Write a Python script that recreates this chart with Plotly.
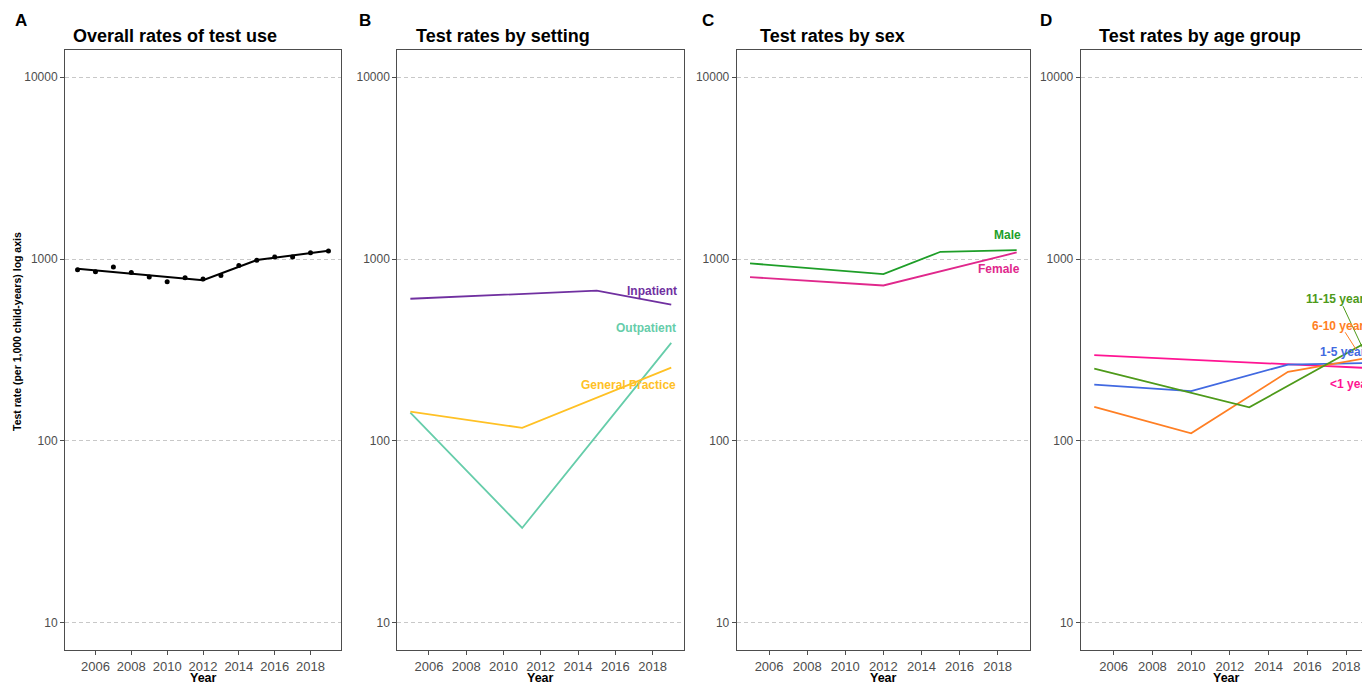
import plotly.graph_objects as go
import numpy as np

# ---------------- data ----------------
years_overall = [2005, 2006, 2007, 2008, 2009, 2010, 2011, 2012, 2013, 2014, 2015, 2016, 2017, 2018, 2019]
overall_rate = [873, 851, 904, 845, 796, 750, 789, 776, 813, 923, 984, 1026, 1026, 1083, 1107]
fit_years = [2005, 2012, 2015, 2019]
fit_rate = [885, 766, 988, 1111]

inpatient_years = [2005, 2015, 2019]
inpatient_rate = [605, 670, 561]
outpatient_years = [2005, 2011, 2019]
outpatient_rate = [143, 33.2, 346]
gp_years = [2005, 2011, 2019]
gp_rate = [145, 118, 253]

male_years = [2005, 2012, 2015, 2019]
male_rate = [947, 827, 1097, 1121]
female_years = [2005, 2012, 2019]
female_rate = [796, 716, 1088]

age_lt1_years = [2005, 2019]
age_lt1_rate = [296, 252]
age_1_5_years = [2005, 2010, 2015, 2019]
age_1_5_rate = [204, 188, 263, 268]
age_6_10_years = [2005, 2010, 2015, 2019]
age_6_10_rate = [154, 110, 240, 285]
age_11_15_years = [2005, 2013, 2019]
age_11_15_rate = [250, 153, 346]

x_ticks = [2006, 2008, 2010, 2012, 2014, 2016, 2018]
y_ticks = [10, 100, 1000, 10000]
y_tick_text = ["10", "100", "1000", "10000"]

panel_letters = ["A", "B", "C", "D"]
panel_titles = ["Overall rates of test use", "Test rates by setting", "Test rates by sex", "Test rates by age group"]
y_title = "Test rate (per 1,000 child-years) log axis"
x_title = "Year"

# ---------------- layout helpers ----------------
W, H = 1362, 684
FONT = "Liberation Sans, Arial, sans-serif"


def fx(px):
    return px / W


def fy(py):
    return 1 - py / H


panel_px = [(65, 341), (397.3, 684.3), (736.7, 1030), (1080.7, 1362)]
x_ranges = [[2004.3, 2019.7], [2004.3, 2019.7], [2004.3, 2019.7], [2004.3, 2018.82]]
y_dom = [fy(650), fy(50)]

C_IN = "#7030A0"
C_OUT = "#66CDAA"
C_GP = "#FFC125"
C_MALE = "#1E9E28"
C_FEMALE = "#E0288C"
C_LT1 = "#FF1493"
C_15 = "#4169E1"
C_610 = "#FF7F24"
C_1115 = "#4E9A1A"

fig = go.Figure()

LW = 1.8


def line(xs, ys, color, idx, width=LW):
    sfx = "" if idx == 1 else str(idx)
    fig.add_trace(go.Scatter(x=xs, y=ys, mode="lines", line=dict(color=color, width=width),
                             xaxis="x" + sfx, yaxis="y" + sfx, showlegend=False, hoverinfo="skip"))


# Panel A
fig.add_trace(go.Scatter(x=years_overall, y=overall_rate, mode="markers",
                         marker=dict(color="black", size=5), xaxis="x", yaxis="y",
                         showlegend=False))
line(fit_years, fit_rate, "black", 1, 2)

# Panel B
line(inpatient_years, inpatient_rate, C_IN, 2)
line(outpatient_years, outpatient_rate, C_OUT, 2)
line(gp_years, gp_rate, C_GP, 2)

# Panel C
line(male_years, male_rate, C_MALE, 3)
line(female_years, female_rate, C_FEMALE, 3)

# Panel D
line(age_lt1_years, age_lt1_rate, C_LT1, 4)
line(age_1_5_years, age_1_5_rate, C_15, 4)
line(age_6_10_years, age_6_10_rate, C_610, 4)
line(age_11_15_years, age_11_15_rate, C_1115, 4)

# label leader segments (panel D)
line([2017.84, 2019.0], [551, 300], C_1115, 4, 1)
line([2017.95, 2018.5], [396, 320], C_610, 4, 1)

layout = dict(width=W, height=H, margin=dict(l=0, r=0, t=0, b=0),
              paper_bgcolor="white", plot_bgcolor="white",
              font=dict(family=FONT, color="#4d4d4d"), showlegend=False)

for i in range(4):
    sfx = "" if i == 0 else str(i + 1)
    x0, x1 = panel_px[i]
    layout["xaxis" + sfx] = dict(
        domain=[fx(x0), min(1.0, fx(x1))], range=x_ranges[i], anchor="y" + sfx,
        tickmode="array", tickvals=x_ticks, ticks="outside", ticklen=4, tickcolor="#4d4d4d",
        tickfont=dict(size=13, color="#4d4d4d", family=FONT),
        showline=True, linecolor="#4d4d4d", linewidth=1, mirror=True,
        showgrid=False, zeroline=False, fixedrange=True)
    layout["yaxis" + sfx] = dict(
        domain=y_dom, type="log", range=[0.85, 4.15], anchor="x" + sfx,
        tickmode="array", tickvals=y_ticks, ticktext=y_tick_text,
        ticks="outside", ticklen=4, tickcolor="#4d4d4d",
        tickfont=dict(size=12, color="#4d4d4d", family=FONT),
        showline=True, linecolor="#4d4d4d", linewidth=1, mirror=(i < 3),
        showgrid=True, gridcolor="#c8c8c8", gridwidth=1, griddash="4px,3px",
        zeroline=False, fixedrange=True)

annotations = []
letter_px = [21, 365, 708, 1046]
title_px = [71, 414, 758, 1097]
for i in range(4):
    annotations.append(dict(text="<b>%s</b>" % panel_letters[i], x=fx(letter_px[i]), y=fy(21),
                            xref="paper", yref="paper", xanchor="center", yanchor="middle",
                            showarrow=False, font=dict(size=17, color="black", family=FONT)))
    annotations.append(dict(text="<b>%s</b>" % panel_titles[i], x=fx(title_px[i]), y=fy(36),
                            xref="paper", yref="paper", xanchor="left", yanchor="middle",
                            showarrow=False, font=dict(size=18, color="black", family=FONT)))
    x0, x1 = panel_px[i]
    cx = (x0 + x1) / 2 if i < 3 else 1226
    annotations.append(dict(text="<b>%s</b>" % x_title, x=fx(cx), y=fy(678),
                            xref="paper", yref="paper", xanchor="center", yanchor="middle",
                            showarrow=False, font=dict(size=12.5, color="black", family=FONT)))

annotations.append(dict(text="<b>%s</b>" % y_title, x=fx(17), y=fy(332), xref="paper", yref="paper",
                        textangle=-90, xanchor="center", yanchor="middle", showarrow=False,
                        font=dict(size=10.5, color="black", family=FONT)))

# series labels (x in years, y in rate units)
series_labels = [
    ("Inpatient", 2019.4, 667, C_IN, 2, "right"),
    ("Outpatient", 2019.35, 417, C_OUT, 2, "right"),
    ("General Practice", 2019.35, 203, C_GP, 2, "right"),
    ("Male", 2019.32, 1355, C_MALE, 3, "right"),
    ("Female", 2019.27, 881, C_FEMALE, 3, "right"),
    ("11-15 years", 2015.81, 603, C_1115, 4, "left"),
    ("6-10 years", 2016.12, 428, C_610, 4, "left"),
    ("1-5 years", 2016.53, 307, C_15, 4, "left"),
    ("<1 year", 2017.05, 205, C_LT1, 4, "left"),
]
for txt, lx, ly, col, idx, anc in series_labels:
    sfx = "" if idx == 1 else str(idx)
    annotations.append(dict(text="<b>%s</b>" % txt.replace("<", "&lt;"), x=lx, y=np.log10(ly),
                            xref="x" + sfx, yref="y" + sfx, xanchor=anc, yanchor="middle",
                            showarrow=False, font=dict(size=12, color=col, family=FONT)))

layout["annotations"] = annotations
fig.update_layout(**layout)

fig.write_html("out.html", config={"displayModeBar": False},
               post_script="document.body.style.margin='0';document.body.style.overflow='hidden';")
